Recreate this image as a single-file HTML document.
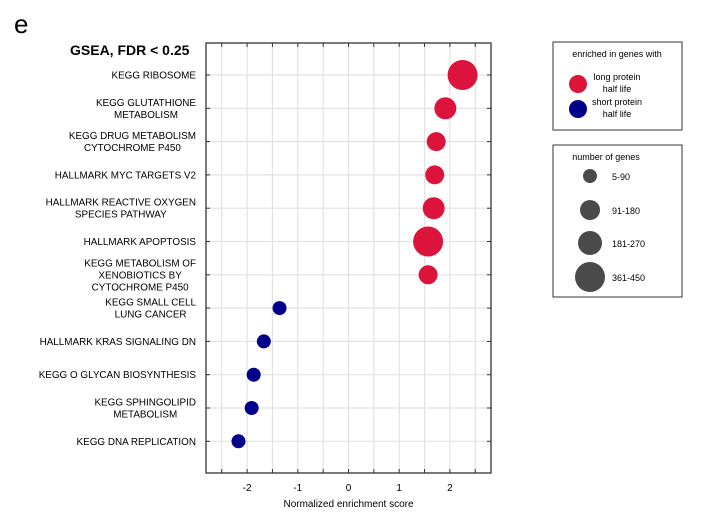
<!DOCTYPE html>
<html><head><meta charset="utf-8"><style>
body{margin:0;background:#fff;width:708px;height:521px;overflow:hidden;font-family:"Liberation Sans",Arial,sans-serif}
</style></head><body>
<svg id="chart" width="708" height="521" xmlns="http://www.w3.org/2000/svg" font-family="Liberation Sans, Arial, sans-serif">
<text x="14" y="33" font-size="26">e</text>
<text x="70" y="55" font-size="14" font-weight="bold">GSEA, FDR &lt; 0.25</text>
<g id="grid"></g><g id="labels"></g><g id="marks"></g>
<rect x="206" y="43" width="285" height="430" fill="none" stroke="#333" stroke-width="1.3"/>
<text x="348.5" y="507" font-size="10" text-anchor="middle">Normalized enrichment score</text>
<g>
<rect x="553" y="42" width="129" height="88" fill="none" stroke="#333" stroke-width="1"/>
<text x="617" y="57" font-size="9" text-anchor="middle">enriched in genes with</text>
<circle cx="578" cy="84" r="9" fill="#dc143c"/>
<text x="617" y="80" font-size="9" text-anchor="middle">long protein</text>
<text x="617" y="92" font-size="9" text-anchor="middle">half life</text>
<circle cx="578" cy="109" r="9" fill="#00008b"/>
<text x="617" y="105" font-size="9" text-anchor="middle">short protein</text>
<text x="617" y="117" font-size="9" text-anchor="middle">half life</text>
</g>
<g>
<rect x="553" y="145" width="129" height="152" fill="none" stroke="#333" stroke-width="1"/>
<text x="606" y="160" font-size="9" text-anchor="middle">number of genes</text>
<circle cx="590" cy="176" r="7" fill="#4a4a4a"/><text x="612" y="180" font-size="9">5-90</text>
<circle cx="590" cy="210" r="10" fill="#4a4a4a"/><text x="612" y="214" font-size="9">91-180</text>
<circle cx="590" cy="243" r="12" fill="#4a4a4a"/><text x="612" y="247" font-size="9">181-270</text>
<circle cx="590" cy="277" r="15" fill="#4a4a4a"/><text x="612" y="281" font-size="9">361-450</text>
</g>
</svg>
<script>
const categories=[["KEGG RIBOSOME"],["KEGG GLUTATHIONE","METABOLISM"],["KEGG DRUG METABOLISM","CYTOCHROME P450"],["HALLMARK MYC TARGETS V2"],["HALLMARK REACTIVE OXYGEN","SPECIES PATHWAY"],["HALLMARK APOPTOSIS"],["KEGG METABOLISM OF","XENOBIOTICS BY","CYTOCHROME P450"],["KEGG SMALL CELL","LUNG CANCER"],["HALLMARK KRAS SIGNALING DN"],["KEGG O GLYCAN BIOSYNTHESIS"],["KEGG SPHINGOLIPID","METABOLISM"],["KEGG DNA REPLICATION"]];
const nes=[2.25,1.91,1.73,1.70,1.68,1.57,1.57,-1.36,-1.67,-1.87,-1.91,-2.17];
const geneCounts=[400,200,120,110,200,380,110,80,60,30,40,35];
const xTicks=[-2,-1,0,1,2];
const S="http://www.w3.org/2000/svg";
const x=v=>348.5+v*50.7, y=i=>75+i*33.3;
const r=n=>n<=90?7:n<=180?9.5:n<=270?11:15;
function mk(t,a,p){const e=document.createElementNS(S,t);for(const k in a)e.setAttribute(k,a[k]);p.appendChild(e);return e;}
const g=document.getElementById('grid'),L=document.getElementById('labels'),M=document.getElementById('marks');
for(let v=-2.5;v<=2.51;v+=0.5){
 const l=mk('line',{x1:x(v),x2:x(v),y1:43,y2:473,stroke:'#e2e2e2','stroke-width':1.2},g);
 
 
 mk('line',{x1:x(v),x2:x(v),y1:43,y2:47,stroke:'#333'},g);
 mk('line',{x1:x(v),x2:x(v),y1:469,y2:473,stroke:'#333'},g);
}
xTicks.forEach(v=>{const t=mk('text',{x:x(v),y:491,'font-size':10,'text-anchor':'middle'},L);t.textContent=v;
 
 });
categories.forEach((c,i)=>{
 const l=mk('line',{x1:206,x2:491,y1:y(i),y2:y(i),stroke:'#e2e2e2','stroke-width':1.2},g);
 
 
 mk('line',{x1:206,x2:210,y1:y(i),y2:y(i),stroke:'#333'},g);
 mk('line',{x1:487,x2:491,y1:y(i),y2:y(i),stroke:'#333'},g);
 const y0=y(i)+3.5-(c.length-1)*6;
 const ts=c.map((s,j)=>{const t=mk('text',{x:196,y:y0+j*12,'font-size':9.9,'text-anchor':'middle'},L);t.textContent=s;
  
  return t;});
 const w=Math.max(...ts.map(t=>t.getComputedTextLength()));
 ts.forEach(t=>t.setAttribute('x',196-w/2));
 const d=mk('circle',{cx:x(nes[i]),cy:y(i),r:r(geneCounts[i]),fill:nes[i]>0?'#dc143c':'#00008b'},M);
 
 
});
</script>
</body></html>
